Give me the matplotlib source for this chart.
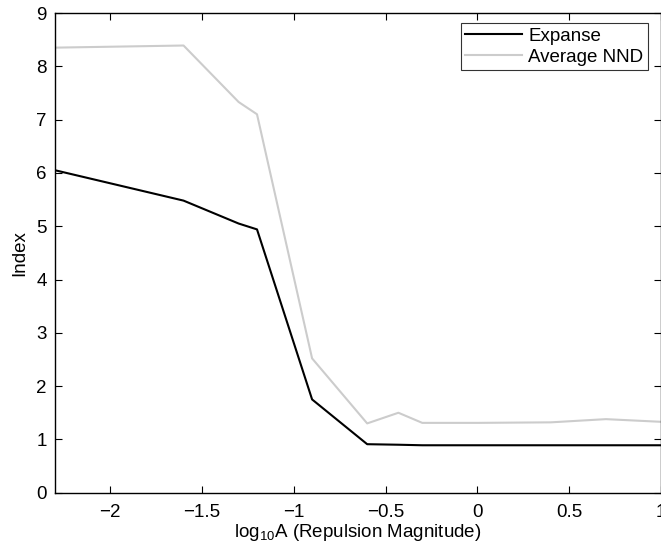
import numpy as np
import matplotlib
matplotlib.use("Agg")
import matplotlib.pyplot as plt

plt.rcParams['font.family'] = ['Liberation Sans', 'DejaVu Sans']
plt.rcParams['mathtext.fontset'] = 'custom'
plt.rcParams['mathtext.rm'] = 'Liberation Sans'
plt.rcParams['mathtext.it'] = 'Liberation Sans:italic'

logA = [-2.3, -1.6, -1.3, -1.2, -0.9, -0.6, -0.43, -0.3, 0.0, 0.4, 0.7, 1.0]
expanse = [6.05, 5.48, 5.05, 4.94, 1.75, 0.91, 0.90, 0.89, 0.89, 0.89, 0.89, 0.89]
avg_nnd = [8.35, 8.39, 7.33, 7.10, 2.52, 1.30, 1.50, 1.31, 1.31, 1.32, 1.38, 1.33]

fig = plt.figure(figsize=(6.61, 5.52), dpi=100)
ax = fig.add_axes([55/661, 1 - 492.7/552, 1 - 55/661, (492.7 - 13)/552])

ax.plot(logA, expanse, '-', color='black', lw=1.5, label='Expanse')
ax.plot(logA, avg_nnd, '-', color='#cccccc', lw=1.5, label='Average NND')

ax.set_xlim(-2.3, 1)
ax.set_ylim(0, 9)
ax.set_xticks([-2, -1.5, -1, -0.5, 0, 0.5, 1])
ax.set_xticklabels(['\u22122', '\u22121.5', '\u22121', '\u22120.5', '0', '0.5', '1'])
ax.set_yticks(range(10))
ax.tick_params(direction='in', top=True, right=True, length=5, width=0.8,
               labelsize=13.5)
ax.tick_params(axis='x', pad=8)
ax.tick_params(axis='y', pad=6)
for s in ax.spines.values():
    s.set_linewidth(1.0)

ax.set_xlabel(r'log$_{\mathrm{10}}$A (Repulsion Magnitude)', fontsize=13.5, labelpad=1)
ax.set_ylabel('Index', fontsize=13.5, labelpad=6)

leg = ax.legend(loc='upper right', bbox_to_anchor=(0.9786, 0.979), borderaxespad=0,
                fancybox=False, edgecolor='black', fontsize=13.5, handlelength=3.0,
                borderpad=0.25, labelspacing=0.2, handletextpad=0.35)
leg.get_frame().set_linewidth(0.8)

fig.savefig('out.png', dpi=100)
